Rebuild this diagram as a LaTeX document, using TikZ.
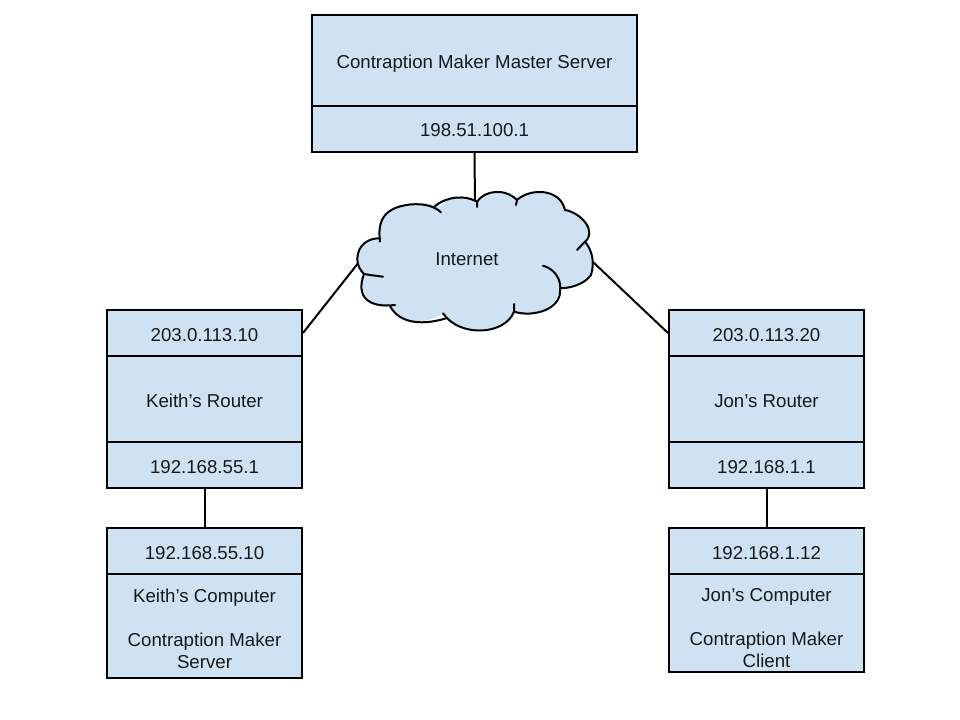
\documentclass[tikz,border=0pt]{standalone}
\usepackage{fontspec}
\setmainfont{Liberation Sans}
\definecolor{boxblue}{HTML}{CFE2F3}
\tikzset{
  cell/.style={draw=black,fill=boxblue,line width=1.5pt,rectangle,inner sep=0pt,align=center,font=\fontsize{14pt}{16.5pt}\selectfont,text=black!90,text height=12pt,text depth=0pt},
  wire/.style={draw=black,line width=1.5pt},
  cloudline/.style={draw=black,line width=1.5pt,line cap=round,line join=round},
  label/.style={inner sep=0pt,font=\fontsize{14pt}{16.5pt}\selectfont,text=black!90}
}
\newcommand{\cellat}[6][]{% options, name, x1, y1, x2, y2 -- text follows as node contents
  \pgfmathsetmacro{\cw}{(#5-#3)*0.75}
  \pgfmathsetmacro{\ch}{(#6-#4)*0.75}
  \pgfmathsetmacro{\cx}{(#3+#5)/2}
  \pgfmathsetmacro{\cy}{(#4+#6)/2}
  \node[cell,minimum width=\cw pt,minimum height=\ch pt,#1] (#2) at (\cx,\cy)
}
\begin{document}
\begin{tikzpicture}[x=0.75pt,y=-0.75pt]
\useasboundingbox (0,0) rectangle (960,720);
\coordinate (cloudtop) at (475,205);
\coordinate (cloudleft) at (359,262);
\coordinate (cloudright) at (593,262);
% boxes
\cellat{masterA}{312}{15}{637}{106} {Contraption Maker Master Server};
\cellat{masterB}{312}{106}{637}{152} {198.51.100.1};
\cellat{krA}{107}{310}{302}{356} {203.0.113.10};
\cellat{krB}{107}{356}{302}{442} {Keith’s Router};
\cellat{krC}{107}{442}{302}{488} {192.168.55.1};
\cellat{jrA}{669}{310}{864}{356} {203.0.113.20};
\cellat{jrB}{669}{356}{864}{442} {Jon’s Router};
\cellat{jrC}{669}{442}{864}{488} {192.168.1.1};
\cellat{kcA}{107}{528}{302}{574} {192.168.55.10};
\cellat[text height=63pt]{kcB}{107}{574}{302}{678} {Keith’s Computer\\[16.5pt]Contraption Maker\\Server};
\cellat{jcA}{669}{528}{864}{574} {192.168.1.12};
\cellat[text height=66pt]{jcB}{669}{574}{864}{672} {Jon’s Computer\\[16.5pt]Contraption Maker\\Client};
\draw[wire] (masterB.south) -- (cloudtop);
\draw[wire] (krA.east) -- (cloudleft);
\draw[wire] (jrA.west) -- (cloudright);
\draw[wire] (krC.south) -- (kcA.north);
\draw[wire] (jrC.south) -- (jcA.north);
% cloud
\fill[boxblue] (357.3,258.3)
 .. controls (358,245) and (368,238) .. (380,238.3)
 .. controls (376,222) and (382,208) .. (415,204)
 .. controls (428,202) and (434,205) .. (441,206)
 .. controls (450,196) and (462,194) .. (477,201.7)
 .. controls (485,190) and (505,188) .. (516,200)
 .. controls (530,188) and (560,188) .. (565,208.3)
 .. controls (580,212) and (595,230) .. (585,241.7)
 .. controls (592,250) and (595,262) .. (591,275)
 .. controls (586,282) and (575,288) .. (560,288.3)
 .. controls (560,305) and (535,318) .. (514,311.7)
 .. controls (505,335) and (460,338) .. (443,313.3)
 .. controls (425,325) and (400,325) .. (390,306)
 .. controls (370,308) and (355,298) .. (364,274)
 .. controls (360,270) and (357,265) .. (357.3,258.3) -- cycle;
\draw[cloudline] (380,241.7) .. controls (378,225) and (380,208) .. (410,204.5)
 .. controls (425,203) and (436,207) .. (441,212.5);
\draw[cloudline] (435,206) .. controls (448,196) and (465,195) .. (477,201.7) -- (477,207);
\draw[cloudline] (477,201.7) .. controls (485,190) and (505,188) .. (517,200) -- (516,205);
\draw[cloudline] (517,200) .. controls (530,188) and (560,188) .. (565,210);
\draw[cloudline] (565,210) .. controls (582,213) and (597,232) .. (585,241.7) -- (577,250);
\draw[cloudline] (585,241.7) .. controls (592,250) and (595,262) .. (591,275)
 .. controls (586,282) and (575,288) .. (560,288.3);
\draw[cloudline] (543,265.7) .. controls (555,269) and (562,280) .. (560,292)
 .. controls (560,308) and (535,318) .. (514,311.7) -- (514,304);
\draw[cloudline] (514,311.7) .. controls (505,335) and (460,338) .. (443,313.3);
\draw[cloudline] (447,318) .. controls (425,325) and (400,325) .. (390,306);
\draw[cloudline] (395,305) .. controls (370,308) and (355,298) .. (364,274);
\draw[cloudline] (383,276.7) .. controls (377,276) and (370,275) .. (364,274)
 .. controls (360,270) and (357,265) .. (357.3,258.3)
 .. controls (358,245) and (368,238) .. (380,238.3);
\node[label] (internet) at (467,259) {Internet};
\end{tikzpicture}
\end{document}
